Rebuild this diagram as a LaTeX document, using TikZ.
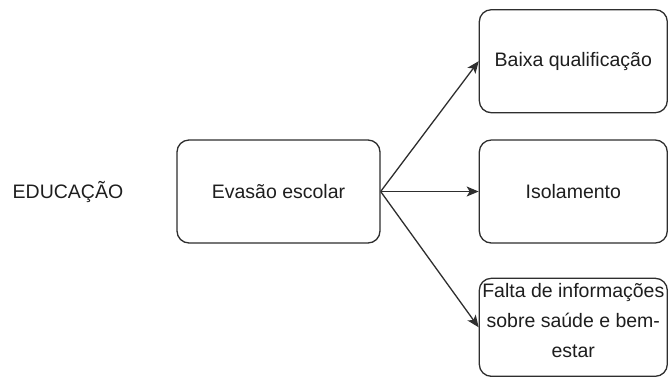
\documentclass[tikz,border=0pt]{standalone}
\usepackage{fontspec}
\setmainfont{Liberation Sans}
\usepackage{xcolor}
\usetikzlibrary{arrows.meta,positioning}
\definecolor{edgegray}{HTML}{2E2E2E}
\definecolor{textgray}{HTML}{1E1E1E}

\begin{document}
\begin{tikzpicture}[->,>={Stealth[length=12pt,width=10pt,inset=3pt]},x=1pt,y=-1pt,semithick,
	box/.style={draw=edgegray,line width=1.3pt,rounded corners=12pt,fill=white,
		minimum width=188pt,minimum height=103pt,inner sep=2pt,align=center,text=textgray},
	every node/.style={font=\fontsize{19.5}{30}\selectfont,text=textgray}]
		\useasboundingbox (0,0) rectangle (669,376);
		\clip (0,0) rectangle (669,376);

		\node (edu) at (68,192) {EDUCAÇÃO};
		\node[box,minimum width=203pt] (evasao) at (278.5,191.5) {Evasão escolar};
		\node[box] (isol) [right=98pt of evasao] {Isolamento};
		\node[box] (baixa) [above=26pt of isol] {Baixa qualificação};
		\node[box,minimum height=98pt,text depth=14pt] (falta) [below=34pt of isol] {Falta de informações\\sobre saúde e bem-\\estar};

		\draw[edgegray,line width=1.3pt] (evasao.east) -- (baixa.west);
		\draw[edgegray,line width=1.3pt] (evasao.east) -- (isol.west);
		\draw[edgegray,line width=1.3pt] (evasao.east) -- (falta.west);
		\end{tikzpicture}
\end{document}
